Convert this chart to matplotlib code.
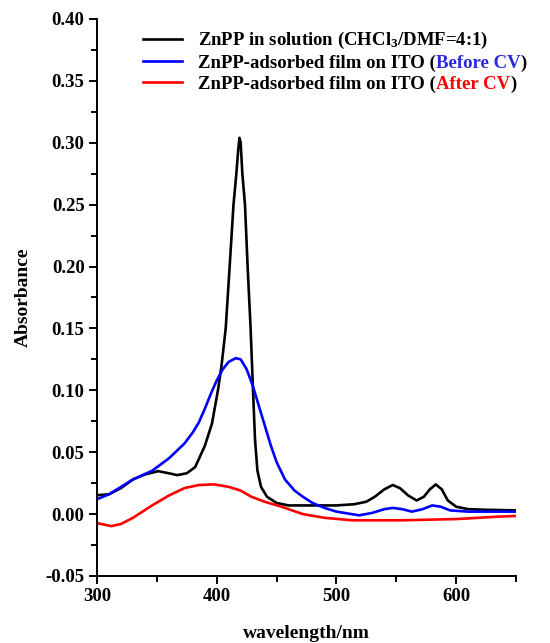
import matplotlib
matplotlib.use("Agg")
import matplotlib.pyplot as plt
from matplotlib.ticker import MultipleLocator

plt.rcParams['font.family'] = ['Liberation Serif', 'DejaVu Serif']
plt.rcParams['font.weight'] = 'bold'
plt.rcParams['mathtext.fontset'] = 'custom'
plt.rcParams['mathtext.rm'] = 'Liberation Serif:bold'
plt.rcParams['mathtext.bf'] = 'Liberation Serif:bold'
plt.rcParams['mathtext.it'] = 'Liberation Serif:italic:bold'

# ---- data ----
wl_solution = [300, 310, 320, 330, 340, 351, 360, 367, 375, 382, 390, 396, 401, 404,
               407.5, 410.8, 414, 416.4, 418, 419, 420, 421.4, 423.6, 425.8, 428.3, 430.3,
               432, 434, 437, 442, 450, 460, 480, 500, 515, 525, 532, 540, 547, 553, 560,
               567, 573, 578, 583, 588, 593, 600, 610, 625, 650]
abs_solution = [0.0153, 0.016, 0.021, 0.028, 0.032, 0.0347, 0.033, 0.0315, 0.033, 0.038,
                0.055, 0.073, 0.10, 0.12, 0.15, 0.20, 0.25, 0.275, 0.295, 0.304, 0.30,
                0.275, 0.25, 0.20, 0.15, 0.10, 0.06, 0.035, 0.022, 0.014, 0.009, 0.007,
                0.007, 0.007, 0.008, 0.010, 0.014, 0.020, 0.0235, 0.021, 0.015, 0.011,
                0.014, 0.020, 0.024, 0.020, 0.011, 0.006, 0.004, 0.0035, 0.003]

wl_before = [300, 310, 320, 330, 346, 360, 373, 380, 385, 390, 395, 400, 405, 410, 416,
             420, 425, 430, 435, 440, 445, 450, 457, 465, 472, 480, 490, 500, 519, 530,
             540, 547, 555, 563, 572, 580, 587, 595, 610, 636, 650]
abs_before = [0.012, 0.016, 0.022, 0.028, 0.035, 0.045, 0.057, 0.066, 0.074, 0.085, 0.097,
              0.108, 0.117, 0.123, 0.126, 0.125, 0.117, 0.104, 0.088, 0.072, 0.056, 0.042,
              0.028, 0.019, 0.014, 0.009, 0.005, 0.002, -0.001, 0.001, 0.004, 0.005, 0.004,
              0.002, 0.004, 0.007, 0.006, 0.003, 0.002, 0.002, 0.002]

wl_after = [300, 312, 320, 330, 346, 360, 373, 385, 398, 410, 420, 429, 440, 454, 472,
            490, 513, 555, 600, 636, 650]
abs_after = [-0.0073, -0.0097, -0.008, -0.003, 0.007, 0.015, 0.021, 0.0235, 0.024, 0.022,
             0.019, 0.014, 0.010, 0.006, 0.0, -0.003, -0.005, -0.005, -0.004, -0.002, -0.0015]

label_solution = "ZnPP in solution (CHCl$_3$/DMF=4:1)"
label_film = "ZnPP-adsorbed film on ITO ("
label_before = "Before CV"
label_after = "After CV"

x_ticks = [300, 400, 500, 600]
y_ticks = [-0.05, 0.00, 0.05, 0.10, 0.15, 0.20, 0.25, 0.30, 0.35, 0.40]

# ---- figure ----
W, H = 550, 643
fig = plt.figure(figsize=(W / 100, H / 100), dpi=100)
ax = fig.add_axes([0.1764, 0.1042, 0.7618, 0.8663])

lw = 1.9
l1, = ax.plot(wl_solution, abs_solution, color='black', lw=lw)
l2, = ax.plot(wl_before, abs_before, color='#0000ff', lw=lw)
l3, = ax.plot(wl_after, abs_after, color='#ff0000', lw=lw)

ax.set_xlim(300, 650)
ax.set_ylim(-0.05, 0.40)
ax.set_xticks(x_ticks)
ax.set_yticks(y_ticks)
ax.set_yticklabels([f"{v:.2f}" for v in y_ticks])
ax.xaxis.set_minor_locator(MultipleLocator(50))
ax.yaxis.set_minor_locator(MultipleLocator(0.025))

for s in ['top', 'right']:
    ax.spines[s].set_visible(False)
for s in ['left', 'bottom']:
    ax.spines[s].set_linewidth(1.4)

ax.tick_params(which='major', direction='out', length=6, width=1.4, labelsize=13.5, pad=3)
ax.tick_params(which='minor', direction='out', length=4, width=1.4)
for lab in ax.get_xticklabels() + ax.get_yticklabels():
    lab.set_fontweight('bold')

ax.set_xlabel("wavelength/nm", fontsize=14, fontweight='bold', labelpad=14)
ax.set_ylabel("Absorbance", fontsize=14, fontweight='bold', labelpad=10)

fs = 13.5
leg = ax.legend([l1, l2, l3], [label_solution, label_film, label_film],
                loc='upper left', bbox_to_anchor=(0.11, 0.98), frameon=False,
                fontsize=fs, handlelength=2.1, handletextpad=0.85, labelspacing=0.18,
                borderpad=0, borderaxespad=0)
texts = leg.get_texts()
for t in texts:
    t.set_fontweight('bold')

fig.canvas.draw()
renderer = fig.canvas.get_renderer()
for t, word, col in [(texts[1], label_before, '#2a2ad8'), (texts[2], label_after, '#ff0000')]:
    bb = t.get_window_extent(renderer)
    t1 = fig.text(bb.x1 / W, bb.y0 / H, word, ha='left', va='bottom',
                  color=col, fontsize=fs, fontweight='bold')
    bb1 = t1.get_window_extent(renderer)
    fig.text(bb1.x1 / W, bb.y0 / H, ")", ha='left', va='bottom',
             color='black', fontsize=fs, fontweight='bold')

fig.savefig("out.png", dpi=100)
